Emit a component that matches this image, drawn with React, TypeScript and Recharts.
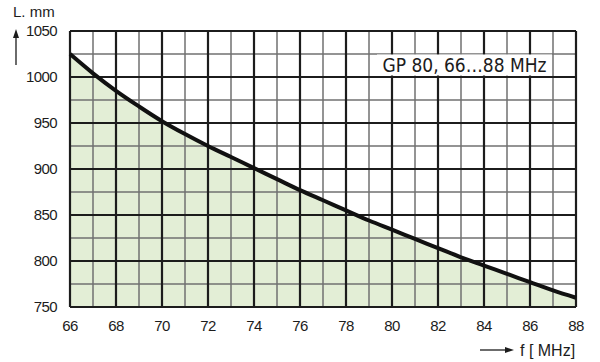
import React from "react";
import {
  Area,
  ComposedChart,
  Line,
  ReferenceLine,
  XAxis,
  YAxis,
} from "recharts";

// frequency, MHz
const freq = [66, 67, 68, 69, 70, 71, 72, 73, 74, 75, 76, 77, 78, 79, 80, 81, 82, 83, 84, 85, 86, 87, 88];
// antenna length, mm
const length = [1025, 1004, 985, 968, 952, 938, 925, 913, 901, 889, 877, 866, 855, 844, 834, 824, 814, 804, 795, 786, 777, 768, 760];

const xTicks = [66, 68, 70, 72, 74, 76, 78, 80, 82, 84, 86, 88];
const xMinor = [67, 69, 71, 73, 75, 77, 79, 81, 83, 85, 87];
const yTicks = [750, 800, 850, 900, 950, 1000, 1050];
const yMinor = [775, 825, 875, 925, 975, 1025];

const TITLE = "GP 80, 66…88 MHz";

const FONT = '"Liberation Sans", Arial, sans-serif';
const INK = "#1c1c1c";
const MINOR = "#707070";
const FILL = "#e3eed6";

const data = freq.map((f, i) => ({ f, L: length[i] }));

export default function App() {
  const tick = { fill: INK, fontSize: 15, fontFamily: FONT, letterSpacing: -0.6 };
  return (
    <div style={{ position: "absolute", left: 0, top: 0, width: 600, height: 362, background: "#fff" }}>
      <ComposedChart
        width={600}
        height={362}
        data={data}
        margin={{ top: 31, right: 24, left: 10, bottom: 0 }}
      >
        <XAxis
          dataKey="f"
          type="number"
          domain={[66, 88]}
          ticks={xTicks}
          axisLine={false}
          tickLine={false}
          tickSize={6}
          tickMargin={7}
          height={55}
          tick={tick}
        />
        <YAxis
          type="number"
          domain={[750, 1050]}
          ticks={yTicks}
          axisLine={false}
          tickLine={false}
          tickSize={6}
          tickMargin={7}
          width={60}
          tick={tick}
        />
        <Area
          dataKey="L"
          type="monotone"
          baseValue={750}
          fill={FILL}
          fillOpacity={1}
          stroke="none"
          isAnimationActive={false}
        />
        {xMinor.map((v) => (
          <ReferenceLine key={"xm" + v} x={v} stroke={MINOR} strokeWidth={1.5} />
        ))}
        {yMinor.map((v) => (
          <ReferenceLine key={"ym" + v} y={v} stroke={MINOR} strokeWidth={1.5} />
        ))}
        {xTicks.map((v) => (
          <ReferenceLine key={"x" + v} x={v} stroke={INK} strokeWidth={2.2} />
        ))}
        {yTicks.map((v) => (
          <ReferenceLine key={"y" + v} y={v} stroke={INK} strokeWidth={2.2} />
        ))}
        <Line
          dataKey="L"
          type="monotone"
          stroke="#111"
          strokeWidth={4}
          dot={false}
          activeDot={false}
          isAnimationActive={false}
        />
      </ComposedChart>
      <svg
        width={600}
        height={362}
        style={{ position: "absolute", left: 0, top: 0, pointerEvents: "none" }}
      >
        {/* title box sits over the grid */}
        <rect x={377} y={54.5} width={175} height={21} fill="#fff" />
        <text
          x={464.5}
          y={71.5}
          textAnchor="middle"
          fontSize={19}
          fontFamily='"DejaVu Sans Condensed", sans-serif'
          fill={INK}
        >
          {TITLE}
        </text>
        <text x={13} y={17} fontSize={15} fontFamily={FONT} fill={INK}>
          L. mm
        </text>
        <line x1={16} y1={65} x2={16} y2={37} stroke={INK} strokeWidth={1.3} />
        <polygon points="16,29 13,38 19,38" fill={INK} />
        <line x1={480} y1={350} x2={506} y2={350} stroke={INK} strokeWidth={1.3} />
        <polygon points="514,350 505,347 505,353" fill={INK} />
        <text x={520} y={356} fontSize={16} fontFamily={FONT} fill={INK}>
          f [ MHz]
        </text>
      </svg>
    </div>
  );
}
